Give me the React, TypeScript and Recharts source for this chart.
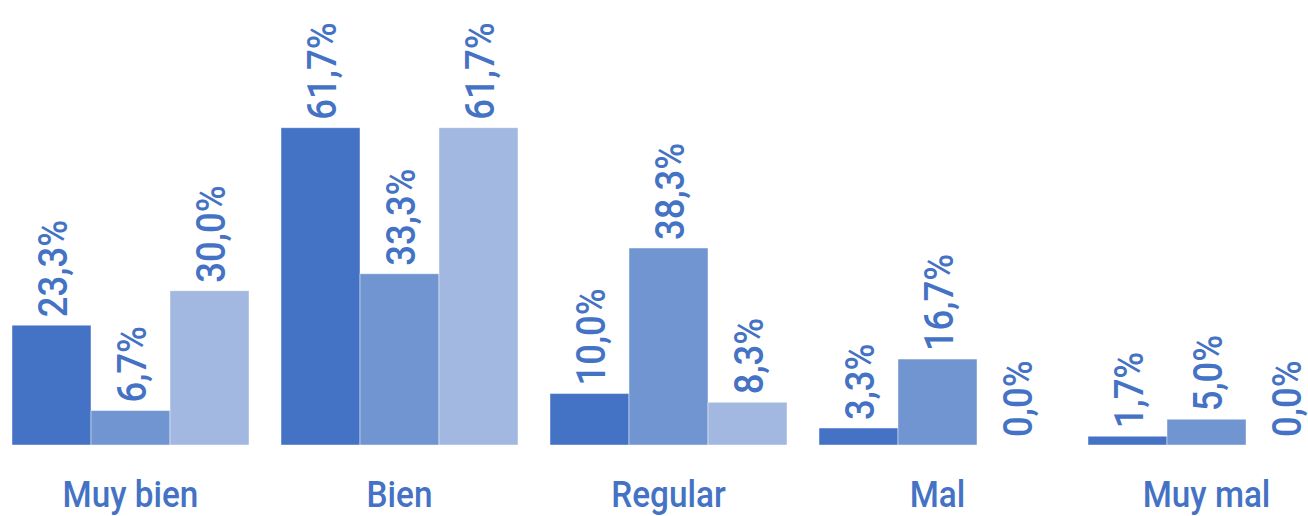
import React from "react";
import { BarChart, Bar, XAxis, YAxis, LabelList } from "recharts";

const categories = ["Muy bien", "Bien", "Regular", "Mal", "Muy mal"];
const serieA = [23.3, 61.7, 10.0, 3.3, 1.7];
const serieB = [6.7, 33.3, 38.3, 16.7, 5.0];
const serieC = [30.0, 61.7, 8.3, 0.0, 0.0];

const data = categories.map((name, i) => ({
  name,
  a: serieA[i],
  b: serieB[i],
  c: serieC[i],
}));

const TEXT_COLOR = "#4472C4";
const FONT = "Roboto, 'DejaVu Sans', sans-serif";

const fmt = (v: number) => v.toFixed(1).replace(".", ",") + "%";

const ValueLabel = (props: any) => {
  const { x, y, width, value } = props;
  const cx = Number(x) + Number(width) / 2 + 15;
  const cy = Number(y) - 8;
  return (
    <text
      x={0}
      y={0}
      transform={`translate(${cx},${cy}) rotate(-90) scale(0.89,1)`}
      fill={TEXT_COLOR}
      fontFamily={FONT}
      fontSize={41}
      fontWeight={500}
      textAnchor="start"
    >
      {fmt(Number(value))}
    </text>
  );
};

const CategoryTick = (props: any) => {
  const { x, payload } = props;
  return (
    <g transform={`translate(${x},${507}) scale(0.9,1)`}>
      <text
        x={0}
        y={0}
        fill={TEXT_COLOR}
        fontFamily={FONT}
        fontSize={37}
        fontWeight={500}
        textAnchor="middle"
      >
        {payload.value}
      </text>
    </g>
  );
};

const minSize = (v: any) => (Number(v) === 0 ? 0.01 : 0);

export default function App() {
  return (
    <div
      style={{
        position: "fixed",
        left: 0,
        top: 0,
        width: 1308,
        height: 516,
        overflow: "hidden",
        background: "#ffffff",
      }}
    >
      <div style={{ position: "absolute", left: -4, top: 0 }}>
        <BarChart
          width={1345}
          height={516}
          data={data}
          margin={{ top: 85, right: 0, bottom: 0, left: 0 }}
          barCategoryGap={16}
          barGap={0}
        >
          <XAxis
            dataKey="name"
            axisLine={false}
            tickLine={false}
            height={71}
            interval={0}
            tick={<CategoryTick />}
          />
          <YAxis hide domain={[0, 70]} />
          <Bar dataKey="a" fill="#4472C4" stroke="rgba(255,255,255,0.45)" strokeWidth={1} minPointSize={minSize} isAnimationActive={false}>
            <LabelList dataKey="a" content={<ValueLabel />} />
          </Bar>
          <Bar dataKey="b" fill="#7195D1" stroke="rgba(255,255,255,0.45)" strokeWidth={1} minPointSize={minSize} isAnimationActive={false}>
            <LabelList dataKey="b" content={<ValueLabel />} />
          </Bar>
          <Bar dataKey="c" fill="#A2B8E1" stroke="rgba(255,255,255,0.45)" strokeWidth={1} minPointSize={minSize} isAnimationActive={false}>
            <LabelList dataKey="c" content={<ValueLabel />} />
          </Bar>
        </BarChart>
      </div>
    </div>
  );
}
